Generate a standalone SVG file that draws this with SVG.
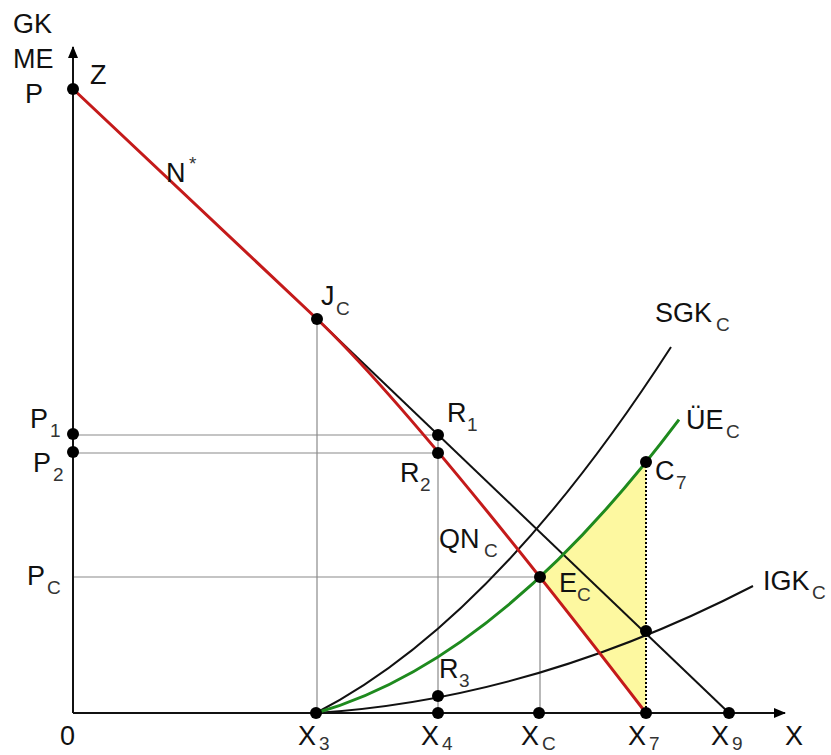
<svg xmlns="http://www.w3.org/2000/svg" width="831" height="755" viewBox="0 0 831 755">
<style>
text{font-family:"Liberation Sans",Arial,sans-serif;fill:#111}
.t{font-size:27px}
.s{font-size:19px;fill:#333}
.g{stroke:#8a8a8a;stroke-width:1.2;fill:none}
.k{stroke:#111;stroke-width:2;fill:none}
.d{fill:#000}
</style>
<defs>
<marker id="ah" markerWidth="12" markerHeight="10" refX="11" refY="5" orient="auto" markerUnits="userSpaceOnUse">
<path d="M0,0 L12,5 L0,10 Z" fill="#000"/>
</marker>
</defs>
<rect width="831" height="755" fill="#fff"/>
<g id="area">
<path d="M540,577 L560,557.8 L580,537.4 L600,515.9 L620,493.3 L646,462 L646,713 Q587,637 538,575 Z" fill="#fdf8a0"/>
</g>
<g id="connectors">
<line class="g" x1="317" y1="319" x2="317" y2="713"/>
<line class="g" x1="73" y1="435" x2="438" y2="435"/>
<line class="g" x1="73" y1="453" x2="438" y2="453"/>
<line class="g" x1="438" y1="435" x2="438" y2="713"/>
<line class="g" x1="73" y1="577" x2="540" y2="577"/>
<line class="g" x1="540" y1="577" x2="540" y2="713"/>
<line x1="646" y1="462" x2="646" y2="713" stroke="#000" stroke-width="2" stroke-dasharray="2,2"/>
<line class="k" x1="73" y1="713" x2="73" y2="47" marker-end="url(#ah)"/>
<line class="k" x1="73" y1="713" x2="785" y2="713" marker-end="url(#ah)"/>
<line class="k" x1="317" y1="319" x2="729" y2="713"/>
<path class="k" d="M316,713 Q493.5,622 671,347"/>
<path class="k" d="M316,713 Q534,699 753,586"/>
<path d="M316,713 Q497.5,661.6 679,419.6" fill="none" stroke="#1e8a1e" stroke-width="3"/>
<path d="M73,89 L317,319 Q411.5,408 646,713" fill="none" stroke="#c41a1a" stroke-width="3"/>
</g>
<g id="P"><circle class="d" cx="73" cy="89" r="6"/></g>
<g id="JC"><circle class="d" cx="317" cy="319" r="6"/></g>
<g id="R1"><circle class="d" cx="438" cy="435" r="6"/></g>
<g id="R2"><circle class="d" cx="438" cy="453" r="6"/></g>
<g id="EC"><circle class="d" cx="540" cy="577" r="6"/></g>
<g id="C7"><circle class="d" cx="646" cy="462" r="6"/></g>
<g id="I"><circle class="d" cx="646" cy="631" r="6"/></g>
<g id="R3"><circle class="d" cx="438" cy="696" r="6"/></g>
<g id="P1"><circle class="d" cx="73" cy="434" r="6"/></g>
<g id="P2"><circle class="d" cx="73" cy="452" r="6"/></g>
<g id="X3"><circle class="d" cx="316" cy="713" r="6"/></g>
<g id="X4"><circle class="d" cx="438" cy="713" r="6"/></g>
<g id="XC"><circle class="d" cx="539" cy="713" r="6"/></g>
<g id="X7"><circle class="d" cx="646" cy="713" r="6"/></g>
<g id="X9"><circle class="d" cx="729" cy="713" r="6"/></g>
<g id="labels">
<text class="t" x="13" y="33">GK</text>
<text class="t" x="13" y="68">ME</text>
<text class="t" x="25" y="103">P</text>
<text class="t" x="90" y="84">Z</text>
<text class="t" x="166" y="182">N</text><text class="s" x="189" y="170">*</text>
<text class="t" x="321" y="305">J</text><text class="s" x="336" y="315">C</text>
<text class="t" x="447" y="422">R</text><text class="s" x="467" y="431">1</text>
<text class="t" x="400" y="482">R</text><text class="s" x="420" y="491">2</text>
<text class="t" x="439" y="678">R</text><text class="s" x="459" y="687">3</text>
<text class="t" x="439" y="548">QN</text><text class="s" x="484" y="557">C</text>
<text class="t" x="559" y="592">E</text><text class="s" x="577" y="601">C</text>
<text class="t" x="655" y="480">C</text><text class="s" x="676" y="489">7</text>
<text class="t" x="655" y="322">SGK</text><text class="s" x="716" y="331">C</text>
<text class="t" x="686" y="429">ÜE</text><text class="s" x="726" y="438">C</text>
<text class="t" x="763" y="590">IGK</text><text class="s" x="812" y="599">C</text>
<text class="t" x="30" y="428">P</text><text class="s" x="50" y="437">1</text>
<text class="t" x="33" y="472">P</text><text class="s" x="53" y="481">2</text>
<text class="t" x="27" y="585">P</text><text class="s" x="47" y="594">C</text>
<text class="t" x="60" y="745">0</text>
<text class="t" x="298" y="745">X</text><text class="s" x="319" y="750">3</text>
<text class="t" x="421" y="745">X</text><text class="s" x="442" y="750">4</text>
<text class="t" x="521" y="745">X</text><text class="s" x="542" y="750">C</text>
<text class="t" x="628" y="745">X</text><text class="s" x="649" y="750">7</text>
<text class="t" x="711" y="745">X</text><text class="s" x="732" y="750">9</text>
<text class="t" x="785" y="745">X</text>
</g>
</svg>
